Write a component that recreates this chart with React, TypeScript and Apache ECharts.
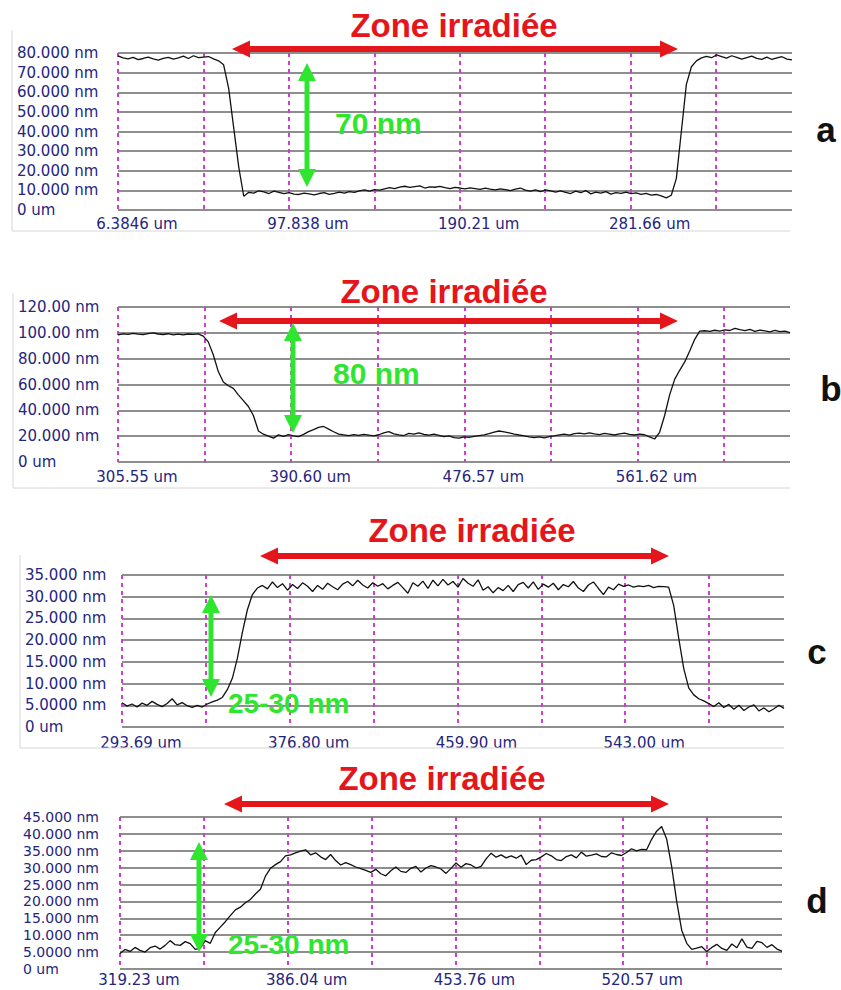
import React, { useEffect, useRef } from 'react';
import * as echarts from 'echarts';

// ---------- Panel a ----------
const aXTicks = ['6.3846 um', '97.838 um', '190.21 um', '281.66 um'];
const aYTicks = ['0 um', '10.000 nm', '20.000 nm', '30.000 nm', '40.000 nm', '50.000 nm', '60.000 nm', '70.000 nm', '80.000 nm'];
const aStepUm = 45.879;
const aHeights = [
  78.5, 77.5, 77, 77.8, 76.6, 77.2, 77.9, 77, 76.4, 77.3, 77.8, 76.9, 77.5, 78.4, 77.2, 78.6, 77.6, 77.9, 78.2, 77, 76,
  74, 62, 42, 22, 7,
  9, 8.6, 9.8, 9.2, 8.4, 9.6, 9, 8.3,
  8.8, 8.1, 7.9, 8.6, 8.2, 7.7, 8.4, 8.8, 8, 8.5, 9.1, 8.6, 9.4, 9, 9.8, 10.2, 9.6,
  10.4, 10.1, 10.8, 11.4, 10.9, 11.6, 12.1, 11.5, 11.9, 12.3, 11.2, 11.8, 11.6, 12, 11.4, 10.9, 11.5, 11.2, 10.8,
  11.3, 10.9, 10.5, 11.1, 10.6, 10.2, 10.8, 10.4, 9.9, 10.6, 11.2, 10.1, 9.6, 10.3, 9.4, 10.2, 9.8, 9.1, 9.7,
  9, 8.4, 9.6, 8.8, 9.9, 8.2, 9.1, 8.6, 9.4, 8.1, 8.9, 8.5, 9.1, 8.3, 8.7, 8, 8.5, 7.6, 7.9, 7.2,
  6.2, 7.5, 16, 40, 64, 73, 76,
  77.5, 78.3, 77.6, 79, 78.2, 77.4, 78.6, 77.8, 76.9, 77.7, 78.4, 77.3, 76.8, 77.9, 76.7, 77.5, 78.1, 76.9, 76.5,
];

// ---------- Panel b ----------
const bXTicks = ['305.55 um', '390.60 um', '476.57 um', '561.62 um'];
const bYTicks = ['0 um', '20.000 nm', '40.000 nm', '60.000 nm', '80.000 nm', '100.00 nm', '120.00 nm'];
const bStepUm = 42.678;
const bHeights = [
  98.5, 99.2, 98.8, 99.6, 99, 98.6, 99.4, 100, 99.1, 98.7, 99.3, 98.5, 99, 98.4, 99.1, 98.8, 99.2,
  97.5, 93, 83, 70, 62, 59, 57, 52, 47.5, 43, 36, 24, 21.5, 20, 18.5, 21, 19.8, 21.2, 20.3, 19.6, 21.4, 23.5, 25, 26.8, 27.5, 25.5, 23.4, 21.6,
  21, 20.4, 21.2, 20.6, 21.4, 20.8, 20.2,
  21.1, 22.6, 23.5, 21.8, 21, 20.5, 22.2, 21.6, 22.5, 21.3, 20.8,
  21.5, 20.6, 19.7, 20.3, 18.8, 18.5, 19.4, 19, 19.8, 20.5,
  21, 21.9, 23.2, 24, 23.4, 22.5, 21.6, 20.9,
  20.3, 19.5, 18.8, 19.4, 18.7, 19.6, 20.2, 21,
  21.5, 20.8, 21.9, 22.4, 21.7, 22.6, 21.8, 21.2, 22.1, 21.5, 20.9, 21.8, 22.3, 21.4, 20.9, 21.6, 21.1, 19.5,
  17.8, 23, 36, 52, 64, 71, 77.5, 86, 95, 101.3,
  101.6, 101.1, 102, 101.4, 102.3, 101.8, 103.5, 102.4, 101.7, 102.6, 101.2, 102.1, 101.5, 100.8, 101.9, 100.9, 101.4, 100.2,
];

// ---------- Panel c ----------
const cXTicks = ['293.69 um', '376.80 um', '459.90 um', '543.00 um'];
const cYTicks = ['0 um', '5.0000 nm', '10.000 nm', '15.000 nm', '20.000 nm', '25.000 nm', '30.000 nm', '35.000 nm'];
const cStepUm = 41.552;
const cHeights = [
  5.6, 4.8, 5.3, 4.6, 5.5, 5, 5.9, 5.2, 4.7, 5.4, 6.5, 5.1, 5.6, 4.9, 4.5, 5, 4.6, 5.3, 5.8,
  6.2, 6.8, 8.6, 11.2, 15.8, 21.8, 27, 30.5, 32,
  32.6, 31.8, 33.4, 32.1, 33, 31.5, 32.8, 31.9, 33.2, 32.4, 31.2, 32.6, 31.7, 33.1, 32.3, 31.6, 32.9, 33.5, 32.5, 33.8, 32.7, 32, 33.2, 32.4, 33, 31.8, 32.6, 33.3,
  32.1, 30.8, 33.2, 32.4, 33.6, 31.9, 33.8, 32.5, 34, 32.7, 33.5, 32.2, 34.2, 33.1, 32.4, 33.9, 31.5, 32.3, 30.9, 32.1, 31.4, 32.6, 31.2, 32.8, 33.3, 32, 33.4, 31.7, 32.9, 32.2,
  33.1, 31.6, 32.8, 32.3, 33.5, 32, 31.2, 32.7, 33.4, 31.9, 30.5, 32.2, 31.6, 32.9, 32.4, 32.7, 32.2, 32.5, 32.3, 32.6, 32.1, 32.4, 32.3, 32.2,
  28, 20.5, 13.5, 9, 7.4, 6.5, 6,
  5.4, 4.7, 5.6, 4.5, 5.2, 4.1, 5, 3.8, 4.6, 5.1, 3.7, 4.4, 3.5, 4.2, 5, 4.3,
];

// ---------- Panel d ----------
const dXTicks = ['319.23 um', '386.04 um', '453.76 um', '520.57 um'];
const dYTicks = ['0 um', '5.0000 nm', '10.000 nm', '15.000 nm', '20.000 nm', '25.000 nm', '30.000 nm', '35.000 nm', '40.000 nm', '45.000 nm'];
const dStepUm = 33.557;
const dHeights = [
  4.6, 5.8, 5.2, 6.4, 5.5, 5, 6.3, 6.8, 5.9, 7, 8.4, 7.2, 7, 8.1, 7.5, 5.8, 6.2, 8.4, 7.6,
  10.8, 12.4, 14, 15.8, 17.5, 18.3, 19.6, 20.6, 22.2, 23.6, 27.5, 29.8, 30.9, 31.8, 33.5, 33.8, 34.4, 34.9, 35.3,
  33.8, 34.4, 33.2, 32.4, 33.9, 32.1, 30.8, 31.5, 30.9, 30.2, 29.7, 29.2, 28.6, 29.5, 28.2, 27.6, 29.1, 30.2, 28.9, 28.6, 29.8, 30.4,
  28.7, 29.9, 30.6, 30.2, 29.6, 28.3, 29.8, 31.4, 30.1, 31.2, 30.8, 29.9, 30.4, 32.6, 34.3, 33.1, 33.8, 32.9, 33.5, 32.8,
  33.7, 30.9, 32.2, 32.4, 33.2, 34.2, 33.5, 32.4, 32.1, 33.3, 33.8, 32.9, 34.6, 33.4, 33.7, 34.1, 33.3, 33.2, 34.4, 33.9,
  33.6, 34.5, 35.6, 35, 35.4, 35.3, 38.4, 40.8, 42.2, 38.5, 30.3, 20, 11.5, 7.6, 5.8,
  6.2, 6.6, 5.2, 6.4, 7.3, 6.1, 5.5, 7.4, 6.3, 8.9, 6.5, 6.1, 8.2, 7.8, 6.4, 7.2, 5.9, 5.3,
];

const annotationTexts = ['Zone irradiée', '70 nm', '80 nm', '25-30 nm', '25-30 nm'];
const panelLetters = ['a', 'b', 'c', 'd'];

// ---------- layout (positions only) ----------
const panels = [
  { heights: aHeights, xTicks: aXTicks, yTicks: aYTicks, step: aStepUm, yInterval: 10, grid: { left: 118, top: 53, width: 674, height: 157 }, spanGrids: 7.889, yMargin: 101, yFont: 15, xMargin: 6, xLH: 15 },
  { heights: bHeights, xTicks: bXTicks, yTicks: bYTicks, step: bStepUm, yInterval: 20, grid: { left: 118, top: 307, width: 672, height: 155 }, spanGrids: 7.762, yMargin: 100, yFont: 15, xMargin: 7.5, xLH: 15 },
  { heights: cHeights, xTicks: cXTicks, yTicks: cYTicks, step: cStepUm, yInterval: 5, grid: { left: 122, top: 575, width: 662, height: 152 }, spanGrids: 7.894, yMargin: 97, yFont: 15, xMargin: 8, xLH: 15 },
  { heights: dHeights, xTicks: dXTicks, yTicks: dYTicks, step: dStepUm, yInterval: 5, grid: { left: 120, top: 817, width: 662, height: 152 }, spanGrids: 7.894, yMargin: 97, yFont: 14, xMargin: 4, xLH: 14 },
];

const RED = '#e4161b';
const GREEN = '#2ee62e';
const NAVY = '#25257e';

function hArrow(x1: number, x2: number, y: number) {
  const hl = 18, hw = 8.5;
  return [
    { type: 'line', shape: { x1: x1 + hl - 2, y1: y, x2: x2 - hl + 2, y2: y }, style: { stroke: RED, lineWidth: 6 }, z: 100 },
    { type: 'polygon', shape: { points: [[x1, y], [x1 + hl, y - hw], [x1 + hl, y + hw]] }, style: { fill: RED }, z: 100 },
    { type: 'polygon', shape: { points: [[x2, y], [x2 - hl, y - hw], [x2 - hl, y + hw]] }, style: { fill: RED }, z: 100 },
  ];
}
function vArrow(x: number, y1: number, y2: number) {
  const hl = 18, hw = 9;
  return [
    { type: 'line', shape: { x1: x, y1: y1 + hl - 2, x2: x, y2: y2 - hl + 2 }, style: { stroke: GREEN, lineWidth: 5 }, z: 100 },
    { type: 'polygon', shape: { points: [[x, y1], [x - hw, y1 + hl], [x + hw, y1 + hl]] }, style: { fill: GREEN }, z: 100 },
    { type: 'polygon', shape: { points: [[x, y2], [x - hw, y2 - hl], [x + hw, y2 - hl]] }, style: { fill: GREEN }, z: 100 },
  ];
}
function txt(text: string, x: number, y: number, color: string, size: number, align = 'center') {
  return {
    type: 'text', x, y, z: 101,
    style: { text, fill: color, fontSize: size, fontWeight: 'bold', fontFamily: '"Liberation Sans", Arial, sans-serif', align, verticalAlign: 'middle' },
  };
}
function frameLine(x1: number, y1: number, x2: number, y2: number) {
  return { type: 'line', shape: { x1, y1, x2, y2 }, style: { stroke: '#d6d6d6', lineWidth: 1 }, z: 1 };
}

export default function App() {
  const ref = useRef<HTMLDivElement>(null);
  useEffect(() => {
    const chart = echarts.init(ref.current!, null, { renderer: 'svg' });
    const grids: any[] = [];
    const xAxes: any[] = [];
    const yAxes: any[] = [];
    const series: any[] = [];
    panels.forEach((p, gi) => {
      const span = p.spanGrids * p.step;
      const yMax = (p.yTicks.length - 1) * p.yInterval;
      grids.push({ ...p.grid, containLabel: false, outerBoundsMode: 'none' });
      xAxes.push({
        gridIndex: gi, type: 'value', min: 0, max: span, interval: p.step,
        axisLine: { show: false }, axisTick: { show: false },
        splitLine: { show: true, showMaxLine: false, showMinLine: true, lineStyle: { color: '#cf3fcf', type: [4, 4], width: 2 } },
        axisLabel: {
          showMaxLabel: false,
          margin: p.xMargin, color: NAVY, fontSize: 15, lineHeight: p.xLH, fontFamily: '"DejaVu Sans", sans-serif',
          padding: [0, 0, 0, 38],
          formatter: (v: number) => {
            const k = Math.round(v / p.step);
            if (Math.abs(v - k * p.step) > p.step * 0.01 || k % 2 !== 0) return '';
            return p.xTicks[k / 2] ?? '';
          },
        },
      });
      yAxes.push({
        gridIndex: gi, type: 'value', min: 0, max: yMax, interval: p.yInterval,
        axisLine: { show: false }, axisTick: { show: false },
        splitLine: { show: true, lineStyle: { color: '#8e8e8e', width: 2 } },
        axisLabel: {
          align: 'left', margin: p.yMargin, color: NAVY, fontSize: p.yFont, fontFamily: '"DejaVu Sans", sans-serif',
          formatter: (v: number) => p.yTicks[Math.round(v / p.yInterval)] ?? '',
        },
      });
      series.push({
        type: 'line', xAxisIndex: gi, yAxisIndex: gi, showSymbol: false, symbol: 'none', silent: true,
        lineStyle: { color: '#111', width: 1.3 },
        data: p.heights.map((h, i) => [(i * span) / (p.heights.length - 1), h]),
        z: 5,
      });
    });

    const graphic: any[] = [
      frameLine(12, 30, 12, 231), frameLine(12, 231, 790, 231),
      frameLine(13, 293, 13, 488), frameLine(13, 488, 790, 488),
      frameLine(20, 555, 20, 748), frameLine(20, 748, 784, 748),
      ...hArrow(232, 678, 49), ...vArrow(307, 63, 187),
      txt(annotationTexts[0], 454, 25, RED, 33), txt(annotationTexts[1], 335, 123, GREEN, 30, 'left'),
      txt(panelLetters[0], 826, 129, '#111', 35),
      ...hArrow(219, 678, 321), ...vArrow(293, 323, 433),
      txt(annotationTexts[0], 444, 291, RED, 33), txt(annotationTexts[2], 333, 373, GREEN, 30, 'left'),
      txt(panelLetters[1], 831, 388, '#111', 35),
      ...hArrow(260, 669, 556), ...vArrow(211, 595, 697),
      txt(annotationTexts[0], 472, 530, RED, 33), txt(annotationTexts[3], 228, 703, GREEN, 28, 'left'),
      txt(panelLetters[2], 817, 651, '#111', 35),
      ...hArrow(224, 669, 804), ...vArrow(199, 842, 952),
      txt(annotationTexts[0], 442, 778, RED, 33), txt(annotationTexts[4], 228, 944, GREEN, 28, 'left'),
      txt(panelLetters[3], 817, 900, '#111', 35),
    ];

    chart.setOption({
      animation: false,
      backgroundColor: '#ffffff',
      grid: grids,
      xAxis: xAxes,
      yAxis: yAxes,
      series,
      graphic,
    });
    return () => chart.dispose();
  }, []);
  return <div ref={ref} style={{ position: 'absolute', left: 0, top: 0, width: 841, height: 990, background: '#fff' }} />;
}
